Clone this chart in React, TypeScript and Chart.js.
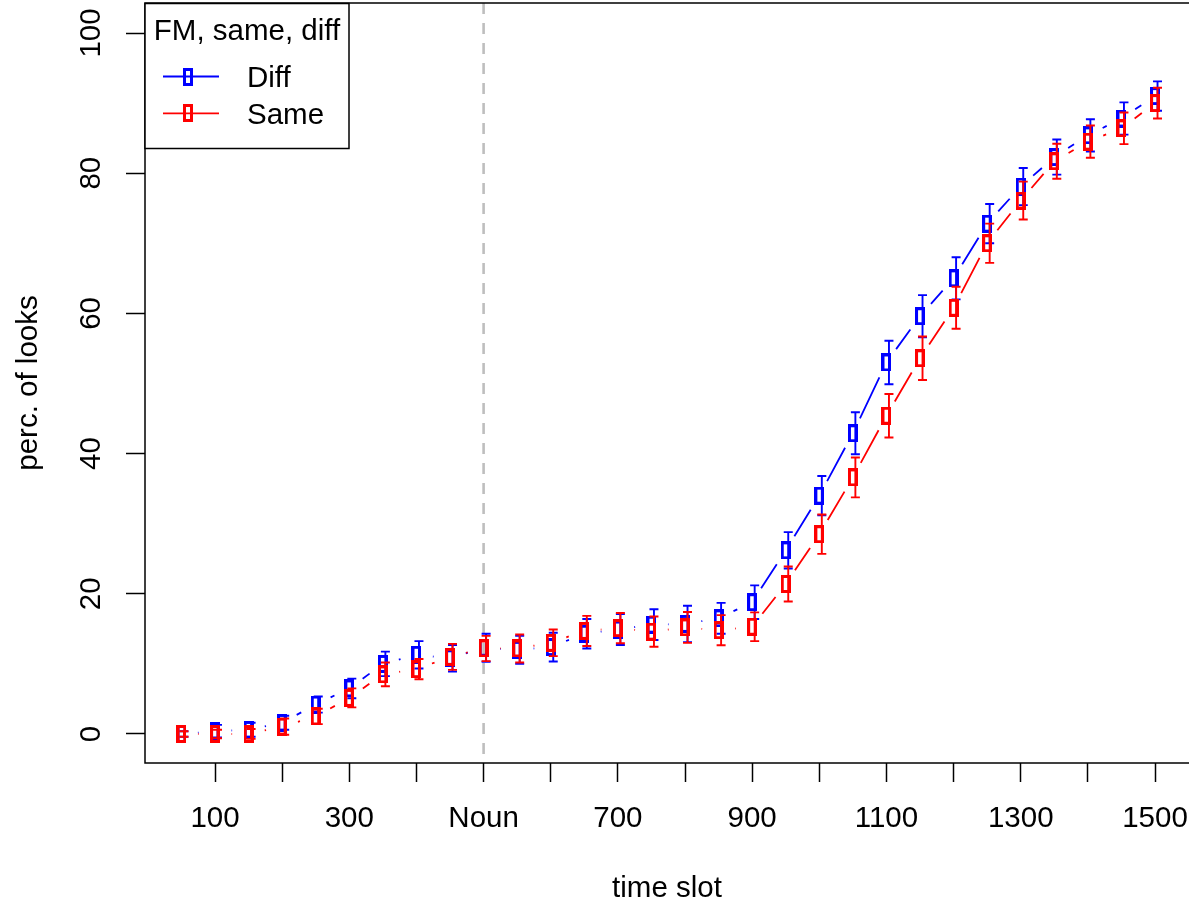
import React, { useEffect, useRef } from 'react';
import { Chart, registerables } from 'chart.js';

Chart.register(...registerables);

// ---- data ----
const timeSlots = [50, 100, 150, 200, 250, 300, 350, 400, 450, 500, 550, 600, 650, 700, 750, 800, 850, 900, 950, 1000, 1050, 1100, 1150, 1200, 1250, 1300, 1350, 1400, 1450, 1500];
const diffMean = [0, 0.4, 0.6, 1.6, 4.2, 6.5, 10.0, 11.3, 10.8, 12.3, 12.0, 12.4, 14.3, 14.9, 15.6, 15.7, 16.5, 18.8, 26.2, 34.0, 42.9, 53.0, 59.6, 65.0, 72.8, 78.1, 82.3, 85.4, 87.8, 91.0];
const diffErr = [0.4, 0.9, 1.0, 1.0, 1.15, 1.4, 1.75, 1.95, 1.9, 2.0, 2.0, 2.05, 2.1, 2.2, 2.2, 2.6, 2.2, 2.4, 2.6, 2.8, 3.0, 3.1, 3.0, 3.0, 2.8, 2.65, 2.5, 2.3, 2.3, 2.1];
const sameMean = [0, 0, 0, 1.05, 2.5, 5.15, 8.5, 9.25, 11.0, 12.2, 12.2, 13.0, 14.7, 15.1, 14.6, 15.2, 14.8, 15.3, 21.4, 28.5, 36.6, 45.4, 53.6, 60.8, 70.0, 76.1, 81.7, 84.5, 86.4, 90.0];
const sameErr = [0.4, 0.6, 0.7, 1.15, 1.1, 1.35, 1.7, 1.45, 1.85, 1.8, 2.0, 1.9, 2.15, 2.15, 2.15, 2.2, 2.15, 2.05, 2.5, 2.8, 2.85, 3.1, 3.1, 3.0, 2.8, 2.7, 2.5, 2.3, 2.25, 2.2];

const xTickValues = [100, 200, 300, 400, 500, 600, 700, 800, 900, 1000, 1100, 1200, 1300, 1400, 1500];
const xTickLabels = ['100', '', '300', '', 'Noun', '', '700', '', '900', '', '1100', '', '1300', '', '1500'];
const yTickValues = [0, 20, 40, 60, 80, 100];
const yTickLabels = ['0', '20', '40', '60', '80', '100'];
const nounSlot = 500;

const legendTitle = 'FM, same, diff';
const seriesNames = ['Diff', 'Same'];
const seriesColors = ['#0000FF', '#FF0000'];

const FONT = '"Liberation Sans", Arial, Helvetica, sans-serif';
const FS = 29.5;

function makeBox(color: string): HTMLCanvasElement {
  const c = document.createElement('canvas');
  c.width = 10;
  c.height = 18;
  const g = c.getContext('2d')!;
  g.strokeStyle = color;
  g.lineWidth = 3;
  g.strokeRect(1.5, 1.5, 7, 15);
  return c;
}

export default function App() {
  const ref = useRef<HTMLCanvasElement | null>(null);

  useEffect(() => {
    if (!ref.current) return;
    const boxes = seriesColors.map(makeBox);
    const means = [diffMean, sameMean];
    const errs = [diffErr, sameErr];
    const GAP = 16.5;

    const rPlugin = {
      id: 'rstyle',
      beforeDatasetsDraw(chart: any) {
        const { ctx, chartArea, scales } = chart;
        const x = scales.x.getPixelForValue(nounSlot);
        ctx.save();
        ctx.strokeStyle = '#BEBEBE';
        ctx.lineWidth = 2.6;
        ctx.setLineDash([11, 9]);
        ctx.beginPath();
        ctx.moveTo(x, chartArea.top);
        ctx.lineTo(x, chartArea.bottom);
        ctx.stroke();
        ctx.restore();
      },
      beforeDatasetDraw(chart: any, args: any) {
        const { ctx } = chart;
        const meta = chart.getDatasetMeta(args.index);
        const ds = chart.data.datasets[args.index];
        const pts = meta.data;
        ctx.save();
        ctx.strokeStyle = ds.borderColor;
        ctx.lineWidth = 1.8;
        ctx.beginPath();
        for (let i = 0; i < pts.length - 1; i++) {
          const a = pts[i], b = pts[i + 1];
          const dx = b.x - a.x, dy = b.y - a.y;
          const len = Math.hypot(dx, dy);
          if (len <= 2 * GAP) continue;
          const ux = dx / len, uy = dy / len;
          ctx.moveTo(a.x + ux * GAP, a.y + uy * GAP);
          ctx.lineTo(b.x - ux * GAP, b.y - uy * GAP);
        }
        ctx.stroke();
        ctx.restore();
      },
      afterDatasetDraw(chart: any, args: any) {
        const { ctx, scales } = chart;
        const idx = args.index;
        const meta = chart.getDatasetMeta(idx);
        const ds = chart.data.datasets[idx];
        const m = means[idx], e = errs[idx];
        ctx.save();
        ctx.strokeStyle = ds.borderColor;
        ctx.lineWidth = 1.9;
        ctx.beginPath();
        meta.data.forEach((p: any, i: number) => {
          const x = p.x + 2.5;
          const yt = scales.y.getPixelForValue(m[i] + e[i]);
          const yb = scales.y.getPixelForValue(m[i] - e[i]);
          ctx.moveTo(x, yt); ctx.lineTo(x, yb);
          ctx.moveTo(x - 4.5, yt); ctx.lineTo(x + 4.5, yt);
          ctx.moveTo(x - 4.5, yb); ctx.lineTo(x + 4.5, yb);
        });
        ctx.stroke();
        ctx.restore();
      },
      afterDraw(chart: any) {
        const { ctx, chartArea, scales } = chart;
        ctx.save();
        // plot box (right side runs past the canvas edge, as in the reference)
        ctx.strokeStyle = '#000';
        ctx.lineWidth = 1.5;
        ctx.strokeRect(chartArea.left, chartArea.top, chartArea.right - chartArea.left + 4, chartArea.bottom - chartArea.top);
        // y tick labels (rotated, R style)
        ctx.fillStyle = '#000';
        ctx.font = `${FS}px ${FONT}`;
        ctx.textAlign = 'center';
        ctx.textBaseline = 'alphabetic';
        yTickValues.forEach((v, i) => {
          const py = scales.y.getPixelForValue(v);
          ctx.save();
          ctx.translate(chartArea.left - 45, py);
          ctx.rotate(-Math.PI / 2);
          ctx.fillText(yTickLabels[i], 0, 0);
          ctx.restore();
        });
        // legend
        const lx = chartArea.left, ly = chartArea.top + 0.5;
        const lw = 204, lh = 145;
        ctx.fillStyle = '#fff';
        ctx.fillRect(lx, ly, lw, lh);
        ctx.strokeStyle = '#000';
        ctx.lineWidth = 1.5;
        ctx.strokeRect(lx, ly, lw, lh);
        ctx.fillStyle = '#000';
        ctx.textAlign = 'center';
        ctx.fillText(legendTitle, lx + lw / 2, ly + 36.5);
        seriesNames.forEach((name, k) => {
          const yy = ly + 73 + k * 36.8;
          ctx.strokeStyle = seriesColors[k];
          ctx.lineWidth = 1.8;
          ctx.beginPath();
          ctx.moveTo(lx + 18, yy);
          ctx.lineTo(lx + 74, yy);
          ctx.stroke();
          const b = boxes[k];
          ctx.drawImage(b, Math.round(lx + 43 - b.width / 2), Math.round(yy - b.height / 2));
          ctx.fillStyle = '#000';
          ctx.textAlign = 'left';
          ctx.fillText(name, lx + 102, yy + 10.8);
        });
        ctx.restore();
      },
    };

    const zeroPad = (s: any) => {
      s.paddingLeft = 0;
      s.paddingRight = 0;
      s.paddingTop = 0;
      s.paddingBottom = 0;
    };

    const chart = new Chart(ref.current, {
      type: 'scatter',
      data: {
        datasets: [
          {
            label: seriesNames[0],
            data: timeSlots.map((t, i) => ({ x: t, y: diffMean[i] })),
            borderColor: seriesColors[0],
            backgroundColor: seriesColors[0],
            pointStyle: boxes[0] as any,
            pointRadius: 5,
            showLine: false,
            order: 2,
          },
          {
            label: seriesNames[1],
            data: timeSlots.map((t, i) => ({ x: t, y: sameMean[i] })),
            borderColor: seriesColors[1],
            backgroundColor: seriesColors[1],
            pointStyle: boxes[1] as any,
            pointRadius: 5,
            showLine: false,
            order: 1,
          },
        ],
      },
      options: {
        animation: false,
        responsive: false,
        devicePixelRatio: 1,
        events: [],
        layout: { autoPadding: false, padding: { top: 3, left: 0, right: 0, bottom: 0 } },
        plugins: { legend: { display: false }, tooltip: { enabled: false } },
        scales: {
          x: {
            type: 'linear',
            min: -4.3,
            max: 1550.6,
            afterFit: (s: any) => { s.height = 140; zeroPad(s); },
            afterBuildTicks: (s: any) => { s.ticks = xTickValues.map((v) => ({ value: v })); },
            grid: { drawOnChartArea: false, drawTicks: true, tickLength: 19, tickColor: '#000', tickWidth: 1.5, color: '#000' },
            border: { display: false },
            ticks: {
              autoSkip: false,
              maxRotation: 0,
              minRotation: 0,
              padding: 19,
              color: '#000',
              font: { family: FONT, size: FS },
              callback: (v: any) => {
                const i = xTickValues.indexOf(Number(v));
                return i >= 0 ? xTickLabels[i] : '';
              },
            },
            title: { display: true, text: 'time slot', color: '#000', font: { family: FONT, size: FS, lineHeight: 0.95 }, padding: { top: 0, bottom: 0 } },
          },
          y: {
            type: 'linear',
            min: -4.14,
            max: 104.28,
            afterFit: (s: any) => { s.width = 145; zeroPad(s); },
            afterBuildTicks: (s: any) => { s.ticks = yTickValues.map((v) => ({ value: v })); },
            grid: { drawOnChartArea: false, drawTicks: true, tickLength: 19, tickColor: '#000', tickWidth: 1.5, color: '#000' },
            border: { display: false },
            ticks: { display: false },
            title: { display: true, text: 'perc. of looks', color: '#000', font: { family: FONT, size: FS, lineHeight: 0.95 }, padding: { top: 15, bottom: 0 } },
          },
        },
      },
      plugins: [rPlugin],
    } as any);

    return () => chart.destroy();
  }, []);

  return (
    <div style={{ position: 'absolute', left: 0, top: 0, width: 1189, height: 903, background: '#fff' }}>
      <canvas ref={ref} width={1189} height={903} style={{ display: 'block', width: 1189, height: 903 }} />
    </div>
  );
}
